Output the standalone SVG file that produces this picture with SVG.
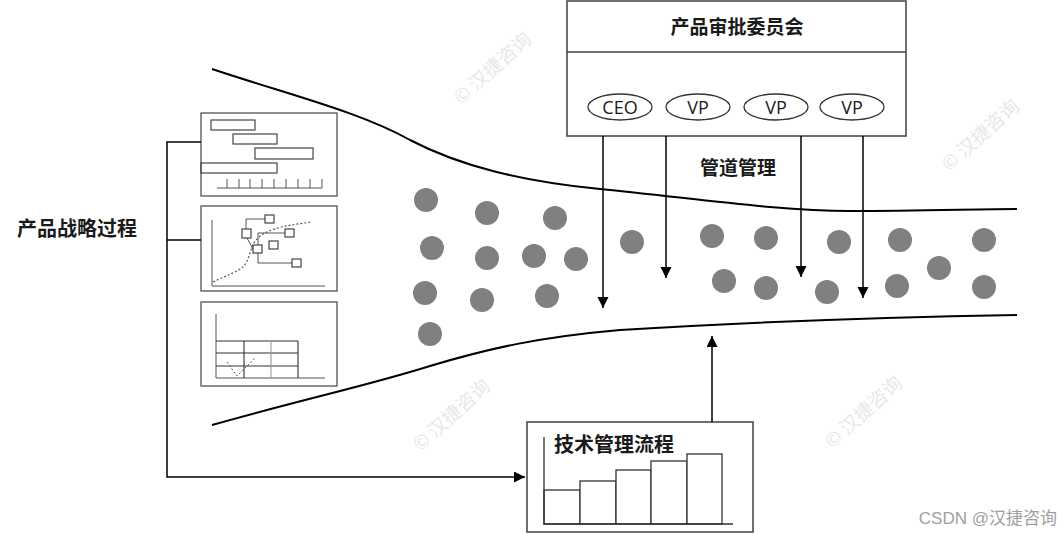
<svg xmlns="http://www.w3.org/2000/svg" width="1063" height="534" viewBox="0 0 1063 534">
<style>
.cjk{font-family:"Noto Sans CJK SC","Noto Sans",sans-serif;font-weight:bold;fill:#1a1a1a}
.lat{font-family:"Open Sans","Liberation Sans",sans-serif;fill:#1a1a1a}
.wm{font-family:"Noto Sans CJK SC",sans-serif;fill:#e8e8e8;font-size:19px}
.box{fill:#fff;stroke:#404040;stroke-width:1.5}
.mini{fill:none;stroke:#444;stroke-width:1.2}
.thin{fill:none;stroke:#555;stroke-width:1}
.bar{fill:#fff;stroke:#333;stroke-width:1.3}
.dot{fill:#808080}
.ln{fill:none;stroke:#000;stroke-width:1.5}
.curve{fill:none;stroke:#000;stroke-width:2}
.ell{fill:#fff;stroke:#333;stroke-width:1.3}
</style>
<defs>
<marker id="ah" markerWidth="12" markerHeight="12" refX="11" refY="5.5" orient="auto" markerUnits="userSpaceOnUse">
<path d="M0,0 L11,5.5 L0,11 Z" fill="#000"/>
</marker>
</defs>
<rect width="1063" height="534" fill="#fff"/>

<!-- watermarks -->
<g id="watermarks">
<text class="wm" transform="translate(497,73) rotate(-42)" text-anchor="middle">© 汉捷咨询</text>
<text class="wm" transform="translate(985,140) rotate(-42)" text-anchor="middle">© 汉捷咨询</text>
<text class="wm" transform="translate(868,417) rotate(-42)" text-anchor="middle">© 汉捷咨询</text>
<text class="wm" transform="translate(456,420) rotate(-42)" text-anchor="middle">© 汉捷咨询</text>
</g>

<!-- pipeline funnel -->
<g id="pipeline">
<path class="curve" d="M212,69 C290,95 360,112 410,140 C460,166 520,181 600,189 C700,199 780,211 850,211 C920,211 980,209 1017,209"/>
<path class="curve" d="M212,425 C300,400 370,385 430,366 C490,348 540,337 620,330 C750,322 900,317 1017,315"/>
<g id="dots">
<circle class="dot" cx="426" cy="200" r="12"/>
<circle class="dot" cx="487" cy="213" r="12"/>
<circle class="dot" cx="555" cy="218" r="12"/>
<circle class="dot" cx="432" cy="248" r="12"/>
<circle class="dot" cx="487" cy="258" r="12"/>
<circle class="dot" cx="534" cy="256" r="12"/>
<circle class="dot" cx="576" cy="259" r="12"/>
<circle class="dot" cx="425" cy="293" r="12"/>
<circle class="dot" cx="482" cy="300" r="12"/>
<circle class="dot" cx="547" cy="296" r="12"/>
<circle class="dot" cx="430" cy="334" r="12"/>
<circle class="dot" cx="632" cy="242" r="12"/>
<circle class="dot" cx="712" cy="236" r="12"/>
<circle class="dot" cx="766" cy="238" r="12"/>
<circle class="dot" cx="839" cy="242" r="12"/>
<circle class="dot" cx="900" cy="240" r="12"/>
<circle class="dot" cx="984" cy="240" r="12"/>
<circle class="dot" cx="724" cy="281" r="12"/>
<circle class="dot" cx="766" cy="288" r="12"/>
<circle class="dot" cx="827" cy="292" r="12"/>
<circle class="dot" cx="897" cy="286" r="12"/>
<circle class="dot" cx="939" cy="268" r="12"/>
<circle class="dot" cx="984" cy="287" r="12"/>
</g>
<text class="cjk" x="738" y="175" font-size="19" text-anchor="middle">管道管理</text>
</g>

<!-- committee -->
<g id="committee">
<rect class="box" x="567" y="1" width="339" height="135"/>
<line x1="567" y1="52" x2="906" y2="52" stroke="#404040" stroke-width="1.5"/>
<text class="cjk" x="737" y="34" font-size="19" text-anchor="middle">产品审批委员会</text>
<g id="ceo"><ellipse class="ell" cx="620" cy="107" rx="32" ry="13"/><text class="lat" x="620" y="113.5" font-size="18" text-anchor="middle">CEO</text></g>
<g id="vp1"><ellipse class="ell" cx="698" cy="107" rx="32" ry="13"/><text class="lat" x="698" y="113.5" font-size="18" text-anchor="middle">VP</text></g>
<g id="vp2"><ellipse class="ell" cx="776" cy="107" rx="32" ry="13"/><text class="lat" x="776" y="113.5" font-size="18" text-anchor="middle">VP</text></g>
<g id="vp3"><ellipse class="ell" cx="852" cy="107" rx="32" ry="13"/><text class="lat" x="852" y="113.5" font-size="18" text-anchor="middle">VP</text></g>
</g>

<!-- strategy label -->
<g id="strategy">
<text class="cjk" x="77" y="236" font-size="20" text-anchor="middle">产品战略过程</text>
</g>

<!-- mini box 1: gantt -->
<g id="gantt">
<rect class="mini" x="201" y="113" width="136" height="83" fill="#fff"/>
<rect class="mini" x="211" y="120" width="44" height="10"/>
<rect class="mini" x="233" y="134" width="44" height="10"/>
<rect class="mini" x="255" y="148" width="58" height="11"/>
<rect class="mini" x="201" y="163" width="76" height="10"/>
<path class="thin" d="M217,188 H322 M227,179 V188 M239,179 V188 M250,179 V188 M262,179 V188 M274,179 V188 M286,179 V188 M298,179 V188 M310,179 V188 M322,179 V188"/>
</g>

<!-- mini box 2: network -->
<g id="network">
<rect class="mini" x="201" y="206" width="136" height="85" fill="#fff"/>
<path class="thin" d="M212,220 V286 H325"/>
<path d="M213,282 C225,276 238,272 244,266 C250,258 250,248 256,240 C265,230 280,226 312,222" fill="none" stroke="#555" stroke-width="1.2" stroke-dasharray="2,2"/>
<path class="thin" d="M246,229 V219 H265 M258,245 V233 H285 M258,253 V263 H292 M247,238 L253,249"/>
<rect class="mini" x="265" y="215" width="9" height="8" fill="#fff"/>
<rect class="mini" x="242" y="229" width="9" height="9" fill="#fff"/>
<rect class="mini" x="285" y="229" width="9" height="8" fill="#fff"/>
<rect class="mini" x="269" y="241" width="9" height="8" fill="#fff"/>
<rect class="mini" x="253" y="245" width="9" height="8" fill="#fff"/>
<rect class="mini" x="292" y="259" width="9" height="8" fill="#fff"/>
</g>

<!-- mini box 3: table -->
<g id="table">
<rect class="mini" x="201" y="302" width="136" height="84" fill="#fff"/>
<path class="thin" d="M216,314 V378 H325"/>
<path d="M216,341 H298 M216,353 H298 M216,366 H298 M244,341 V378 M298,341 V378" fill="none" stroke="#333" stroke-width="1.1"/>
<path d="M271,341 V378" stroke="#999" stroke-width="1.1"/>
<path d="M227,362 L237,376 L255,358" fill="none" stroke="#555" stroke-width="1" stroke-dasharray="2,2"/>
</g>

<!-- tech process -->
<g id="tech">
<rect class="box" x="527" y="422" width="226" height="110"/>
<rect class="bar" x="544" y="490" width="36" height="34"/>
<rect class="bar" x="580" y="481" width="36" height="43"/>
<rect class="bar" x="616" y="470" width="35" height="54"/>
<rect class="bar" x="651" y="461" width="36" height="63"/>
<rect class="bar" x="687" y="454" width="35" height="70"/>
<path d="M544,437 V524 H733" fill="none" stroke="#333" stroke-width="1.3"/>
<text class="cjk" x="614" y="452" font-size="20" text-anchor="middle">技术管理流程</text>
</g>

<!-- connectors -->
<g id="connectors">
<path class="ln" d="M201,142 H167 V477 H525" marker-end="url(#ah)"/>
<path class="ln" d="M167,240 H201"/>
<line class="ln" x1="603" y1="136" x2="603" y2="308" marker-end="url(#ah)"/>
<line class="ln" x1="666" y1="136" x2="666" y2="278" marker-end="url(#ah)"/>
<line class="ln" x1="801" y1="136" x2="801" y2="277" marker-end="url(#ah)"/>
<line class="ln" x1="863" y1="136" x2="863" y2="298" marker-end="url(#ah)"/>
<line class="ln" x1="712" y1="422" x2="712" y2="336" marker-end="url(#ah)"/>
</g>

<text x="1057" y="524" font-family="Liberation Sans, Noto Sans CJK SC, sans-serif" font-size="17" fill="#a0a0a0" text-anchor="end">CSDN @汉捷咨询</text>
</svg>
